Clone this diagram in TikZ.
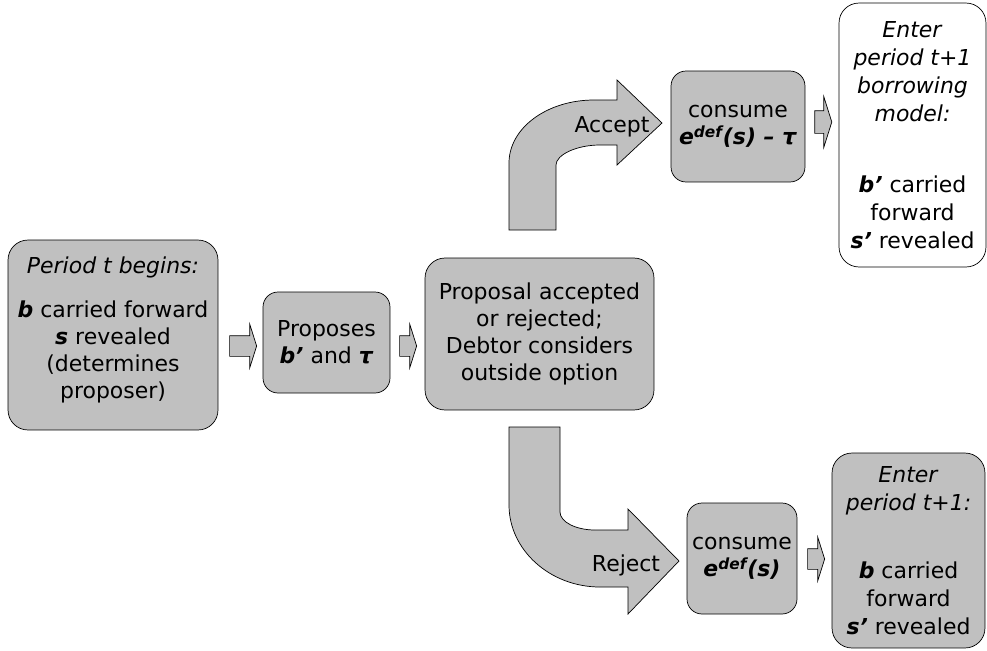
\documentclass[tikz,border=0pt]{standalone}
\usepackage{fontspec}
\setmainfont{DejaVu Sans}
\usetikzlibrary{shapes.arrows}
\definecolor{boxgray}{RGB}{192,192,192}
\newcommand{\bi}[1]{\textbf{\textit{#1}}}

\tikzset{
    stage/.style={draw, fill=boxgray, rounded corners=0.4cm, align=center,
        inner sep=0pt, font=\fontsize{12.5}{15.5}\selectfont},
    outcome/.style={stage, fill=white},
    blockarr/.style={single arrow, draw, fill=boxgray, inner xsep=0pt,
        inner ysep=0.2cm, single arrow head extend=0.23cm,
        single arrow tip angle=145, minimum height=#1},
    bentarr/.style={draw, fill=boxgray},
    armlabel/.style={font=\fontsize{12.5}{15.5}\selectfont}
}

\begin{document}
\begin{tikzpicture}[x=0.02cm, y=-0.02cm]
    \useasboundingbox (0,0) rectangle (987,650);

    \node[stage, minimum width=4.2cm, minimum height=3.8cm] (L) at (113,335)
        {\textit{Period t begins:}\\[0.34cm]
         \bi{b} carried forward\\ \bi{s} revealed\\ (determines\\ proposer)\\[-0.25cm]};
    \node[stage, rounded corners=0.3cm, minimum width=2.54cm, minimum height=2.02cm] (P) at (326.5,342.5)
        {Proposes\\ \bi{b’} and \bi{τ}};
    \node[stage, minimum width=4.58cm, minimum height=3.04cm] (D) at (539.5,334)
        {Proposal accepted\\ or rejected;\\ Debtor considers\\ outside option};
    \node[stage, rounded corners=0.3cm, minimum width=2.68cm, minimum height=2.22cm] (C1) at (738,126.5)
        {consume\\ \bi{e\textsuperscript{def}(s) – τ}};
    \node[outcome, font=\fontsize{12.5}{16}\selectfont, minimum width=2.94cm, minimum height=5.28cm] (E1) at (912.5,135)
        {\textit{Enter}\\ \textit{period t+1}\\ \textit{borrowing}\\ \textit{model:}\\[0.85cm]
         \bi{b’} carried\\ forward\\ \bi{s’} revealed};
    \node[stage, rounded corners=0.3cm, minimum width=2.2cm, minimum height=2.22cm] (C2) at (742,558.5)
        {consume\\ \bi{e\textsuperscript{def}(s)}};
    \node[stage, font=\fontsize{12.5}{16}\selectfont, minimum width=3.06cm, minimum height=3.9cm] (E2) at (908.5,550.5)
        {\textit{Enter}\\ \textit{period t+1:}\\[0.8cm]
         \bi{b} carried\\ forward\\ \bi{s’} revealed};

    % small arrows between the boxes
    \node[blockarr=0.54cm] (a1) at (241.5,346) {};
    \node[blockarr=0.34cm] (a2) at (406.5,346) {};
    \node[blockarr=0.34cm, inner ysep=0.22cm, single arrow head extend=0.28cm] (a3) at (821.5,122) {};
    \node[blockarr=0.34cm] (a4) at (814.5,559) {};

    % accept arm
    \draw[bentarr] (509,230) -- (509,163)
        .. controls (509,128) and (547,100) .. (594,100)
        -- (617,100) -- (617,80) -- (662,123) -- (617,165) -- (617,145)
        -- (600,145) .. controls (576,145) and (556,155) .. (556,165)
        -- (556,230) -- cycle;
    \node[armlabel] (acc) at (612,127) {Accept};

    % reject arm
    \draw[bentarr] (509,427) -- (560,427) -- (560,512)
        .. controls (560,522) and (576,530) .. (595,530)
        -- (628,530) -- (628,509) -- (679,561) -- (628,614) -- (628,587)
        -- (600,587) .. controls (550,587) and (509,550) .. (509,505)
        -- cycle;
    \node[armlabel] (rej) at (626,565) {Reject};
\end{tikzpicture}
\end{document}
